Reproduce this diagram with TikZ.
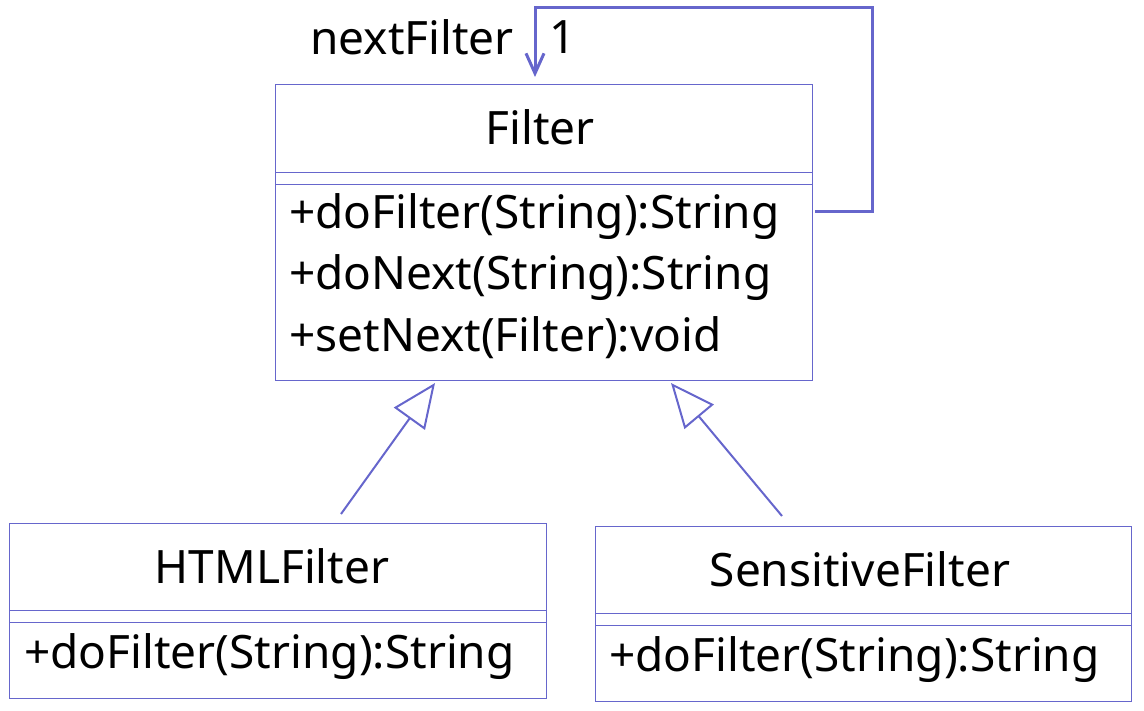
\documentclass[tikz,border=0pt]{standalone}
\usepackage{fontspec}
\setmainfont{Noto Sans}
\definecolor{umlblue}{RGB}{102,102,204}
\usetikzlibrary{arrows.meta,positioning}

\tikzset{
  classbox/.style={draw=umlblue, line width=1pt, anchor=north west, inner sep=0pt},
  sepline/.style={draw=umlblue, line width=1pt},
  umltext/.style={font=\fontsize{46}{55}\selectfont, text=black, inner sep=0pt},
  inherit/.style={draw=umlblue, line width=2pt, -{Triangle[open, length=44pt, width=38pt]}},
  assoc/.style={draw=umlblue, line width=3pt, -{Straight Barb[length=20pt, width=18pt]}}
}

\begin{document}
\begin{tikzpicture}[x=1pt, y=-1pt]
  \useasboundingbox (0,0) rectangle (1144,710);

  % Filter
  \node[classbox, minimum width=537pt, minimum height=296pt] (filter) at (275,84) {};
  \draw[sepline] (275,172) -- (812,172);
  \draw[sepline] (275,184) -- (812,184);
  \node[umltext] (filtername) at (540,127) {Filter};
  \node[umltext, anchor=west] (filterm1) at (289,217) {+doFilter(String):String};
  \node[umltext, anchor=west] (filterm2) at (289,278) {+doNext(String):String};
  \node[umltext, anchor=west] (filterm3) at (289,338) {+setNext(Filter):void};

  % HTMLFilter
  \node[classbox, minimum width=537pt, minimum height=175pt] (html) at (9,523) {};
  \draw[sepline] (9,610) -- (546,610);
  \draw[sepline] (9,622) -- (546,622);
  \node[umltext] (htmlname) at (272,566) {HTMLFilter};
  \node[umltext, anchor=west] (htmlm1) at (24,657) {+doFilter(String):String};

  % SensitiveFilter
  \node[classbox, minimum width=536pt, minimum height=175pt] (sensitive) at (595,526) {};
  \draw[sepline] (595,613) -- (1131,613);
  \draw[sepline] (595,625) -- (1131,625);
  \node[umltext] (sensitivename) at (860,569) {SensitiveFilter};
  \node[umltext, anchor=west] (sensitivem1) at (609,660) {+doFilter(String):String};

  % Self association
  \coordinate (loopstart) at (815,211);
  \coordinate (loopend) at (535,77);
  \draw[assoc] (loopstart) -| (872,7) -| (loopend);
  \node[umltext] (rolename) at (412,37) {nextFilter};
  \node[umltext] (multiplicity) at (563,37) {1};

  % Generalization
  \coordinate (htmltop) at (341,514);
  \coordinate (filterleft) at (435,383);
  \coordinate (sensitivetop) at (782,516);
  \coordinate (filterright) at (671,383);
  \draw[inherit] (htmltop) -- (filterleft);
  \draw[inherit] (sensitivetop) -- (filterright);
\end{tikzpicture}
\end{document}
